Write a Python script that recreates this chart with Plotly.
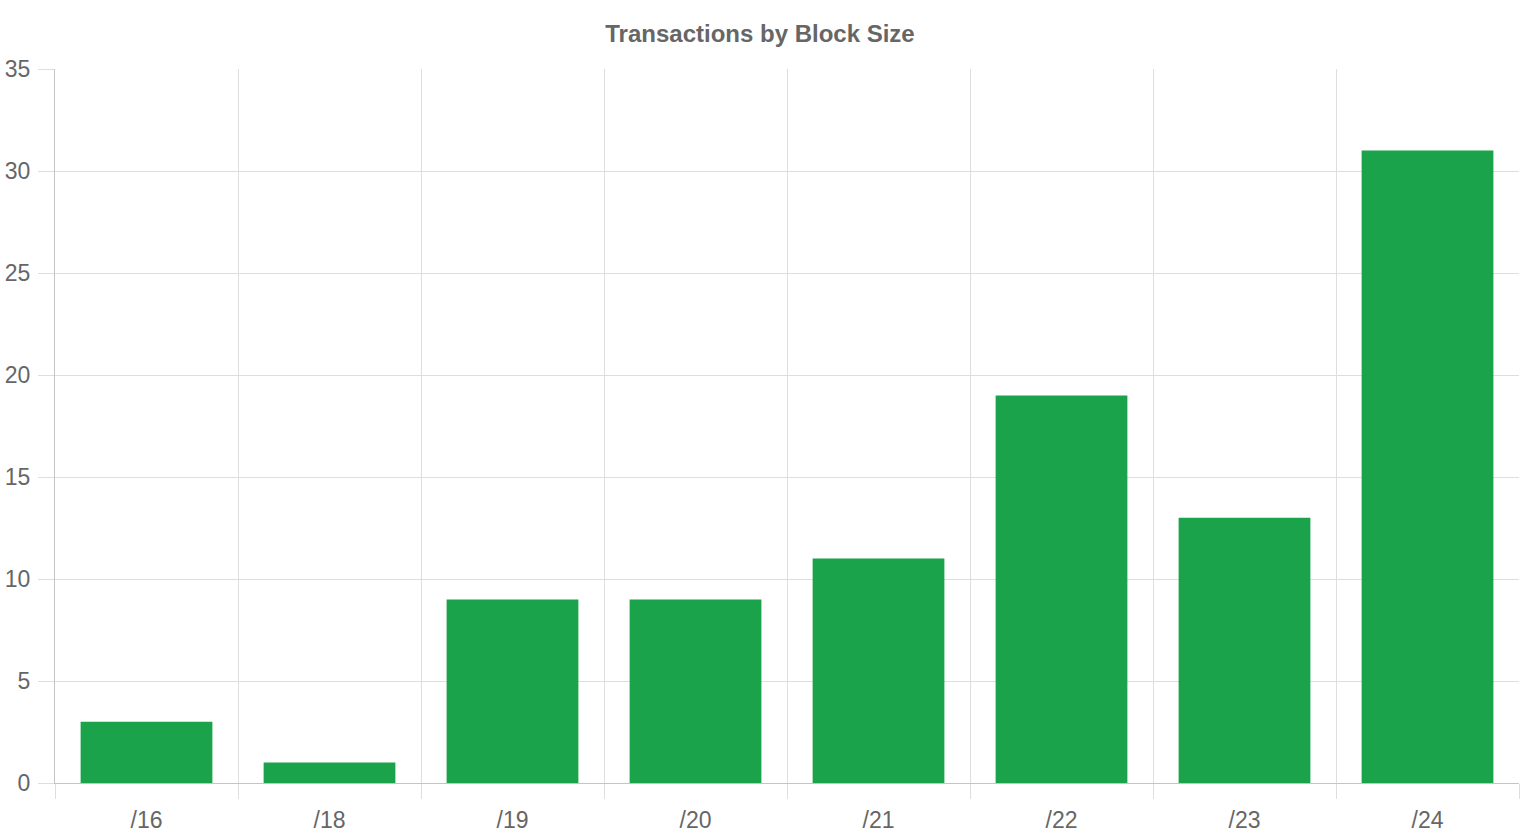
import plotly.graph_objects as go

categories = ["/16", "/18", "/19", "/20", "/21", "/22", "/23", "/24"]
transactions = [3, 1, 9, 9, 11, 19, 13, 31]
y_ticks = [0, 5, 10, 15, 20, 25, 30, 35]

FONT = "Liberation Sans, Arial, sans-serif"
GRID = "#dedede"
AXIS = "#c4c4c4"
TEXT = "#666666"

W, H = 1520, 840

fig = go.Figure(
    go.Bar(
        x=categories,
        y=transactions,
        marker=dict(color="#1aa34a", line=dict(width=0)),
        hoverinfo="x+y",
    )
)

fig.update_layout(
    width=W,
    height=H,
    margin=dict(l=55, r=1, t=69, b=57, autoexpand=False),
    paper_bgcolor="white",
    plot_bgcolor="white",
    bargap=0.28,
    showlegend=False,
    font=dict(family=FONT, color=TEXT, size=23),
    title=dict(
        text="<b>Transactions by Block Size</b>",
        x=0.5,
        xref="container",
        xanchor="center",
        y=1 - 34 / H,
        yref="container",
        yanchor="middle",
        font=dict(family=FONT, size=24, color=TEXT),
    ),
    xaxis=dict(
        type="category",
        tickson="boundaries",
        showgrid=True,
        gridcolor=GRID,
        gridwidth=1,
        ticks="outside",
        ticklen=15,
        tickcolor=GRID,
        showline=True,
        linecolor=AXIS,
        linewidth=1,
        ticklabelstandoff=16,
        tickfont=dict(family=FONT, size=23, color=TEXT),
        automargin=False,
        fixedrange=True,
    ),
    yaxis=dict(
        range=[0, 35],
        tickvals=y_ticks,
        showgrid=True,
        gridcolor=GRID,
        gridwidth=1,
        zeroline=False,
        ticks="outside",
        ticklen=16,
        tickcolor=GRID,
        showline=True,
        linecolor=AXIS,
        linewidth=1,
        ticklabelstandoff=3,
        tickfont=dict(family=FONT, size=23, color=TEXT),
        automargin=False,
        fixedrange=True,
    ),
)

fig.write_html(
    "out.html",
    config={"displayModeBar": False},
    post_script="document.body.style.margin='0';document.body.style.overflow='hidden';",
)
